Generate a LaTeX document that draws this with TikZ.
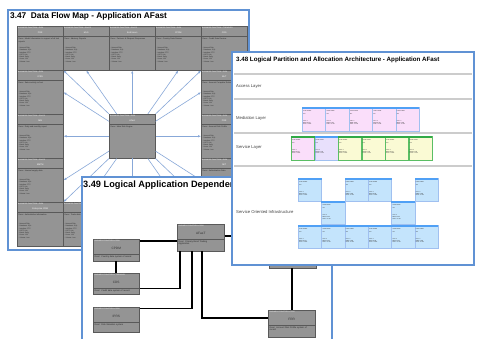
\documentclass[tikz,border=0pt]{standalone}
\usepackage{fontspec}
\setmainfont{Liberation Sans}
\usetikzlibrary{arrows.meta}

\definecolor{pageblue}{RGB}{96,146,212}
\definecolor{flowblue}{RGB}{136,168,216}
\definecolor{boxgray}{RGB}{148,148,148}
\definecolor{medpink}{RGB}{250,222,250}
\definecolor{lavender}{RGB}{232,224,252}
\definecolor{svcyellow}{RGB}{250,250,212}
\definecolor{soiblue}{RGB}{196,228,252}
\definecolor{hdrblue}{RGB}{80,160,245}
\definecolor{hdrgreen}{RGB}{50,170,70}
\definecolor{bordblue}{RGB}{160,192,240}
\definecolor{bordgreen}{RGB}{90,190,100}

\tikzset{
  page/.style={draw=pageblue, line width=1.1pt, fill=white},
  title/.style={anchor=west, inner sep=0pt, font=\bfseries\fontsize{8.3}{10}\selectfont},
  fnbox/.style={draw=black!65, fill=boxgray, anchor=north west, inner sep=0pt,
    line width=0.5pt, minimum width=46pt, minimum height=44pt},
  fnsep/.style={draw=black!65, line width=0.5pt},
  fnhead/.style={anchor=north west, inner sep=0pt, text=white, font=\fontsize{1.8}{2}\selectfont},
  fnname/.style={inner sep=0pt, text=white, font=\fontsize{2.2}{2.5}\selectfont},
  fndesc/.style={anchor=north west, inner sep=0pt, text width=42pt, align=left,
    text=black!85, font=\fontsize{2}{2.4}\selectfont},
  fnlist/.style={anchor=north west, inner sep=0pt, align=left, text=black!85,
    font=\fontsize{1.7}{2.3}\selectfont},
  flow/.style={draw=flowblue, line width=0.6pt, -{Latex[length=3pt,width=2.4pt]}},
  apbox/.style={fnbox, minimum height=22pt},
  apname/.style={inner sep=0pt, text=black!80, font=\fontsize{3.2}{3.5}\selectfont},
  apdesc/.style={anchor=north west, inner sep=0pt, text width=44pt, align=left,
    text=black!85, font=\fontsize{2.2}{2.6}\selectfont},
  dep/.style={draw=black, line width=1.6pt},
  laylabel/.style={anchor=west, inner sep=0pt, text=black!75, font=\fontsize{4.2}{5}\selectfont},
  laysep/.style={draw=black!20, line width=1.2pt},
  lpbox/.style={anchor=north west, inner sep=0pt, minimum width=23.3pt,
    minimum height=24pt, line width=0.4pt},
  lptext/.style={anchor=north west, inner sep=0pt, align=left, text=black!80,
    font=\fontsize{1.4}{1.8}\selectfont},
}

% tiny list printed in every data flow box
\newcommand{\flowitems}{- Network Risk\\- Database: SQL\\- Interface: FTP\\- COTS: No\\- Batch: Daily\\- Users: 120\\- Volume: Low}

% data flow box: [style] name, top left, function, app, desc, list
\newcommand{\fnbox}[7][]{%
  \node[fnbox,#1] (#2) at (#3) {};
  \draw[fnsep] ([yshift=-10pt]#2.north west) -- ([yshift=-10pt]#2.north east);
  \node[fnhead] at ([shift={(1pt,-1.2pt)}]#2.north west) {BUSINESS FUNCTION > #4};
  \node[fnname] at ([yshift=-6.5pt]#2.north) {#5};
  \node[fndesc] at ([shift={(1.5pt,-12pt)}]#2.north west) {Desc: #6};
  \node[fnlist] at ([shift={(1.5pt,-21pt)}]#2.north west) {#7};
}

% dependency box: [style] name, top left, function, app, desc
\newcommand{\apbox}[6][]{%
  \node[apbox,#1] (#2) at (#3) {};
  \draw[fnsep] ([yshift=-15pt]#2.north west) -- ([yshift=-15pt]#2.north east);
  \node[fnhead] at ([shift={(1.5pt,-1.5pt)}]#2.north west) {BUSINESS FUNCTION > #4};
  \node[apname] at ([yshift=-9pt]#2.north) {#5};
  \node[apdesc] at ([shift={(1.5pt,-16.5pt)}]#2.north west) {Desc: #6};
}

% partition box: [style] name, top left, header colour
\newcommand{\lpbox}[4][]{%
  \node[lpbox,#1] (#2) at (#3) {};
  \fill[#4] (#2.north west) rectangle ([yshift=-1.8pt]#2.north east);
  \node[lptext] at ([shift={(1pt,-3pt)}]#2.north west)
    {LPAR NAME\\[1.5pt]AIX\\[5pt]CPU: 2\\MEM: 8 GB\\DISK: 70 GB};
}

\begin{document}
\begin{tikzpicture}[x=1pt,y=-1pt]
\useasboundingbox (0,0) rectangle (477,339);

% 3.47 data flow map
\draw[page] (8,10) rectangle (249,250);
\node[title] (t47) at (10,16) {3.47\ \ Data Flow Map - Application AFast};

\fnbox{t1}{17,26}{RISK}{FRR}{Model information in support of all risk reports}{\flowitems}
\fnbox{t2}{63,26}{SALES}{MLS}{Advisory Reports}{\flowitems}
\fnbox{t3}{109,26}{SALES}{End Users}{Partners \& Request Responses}{\flowitems}
\fnbox{t4}{155,26}{RISK}{CPDM}{Country Data Review}{\flowitems}
\fnbox{t5}{201,26}{TREASURY}{CDS}{Credit Data Review}{\flowitems}
\fnbox{l2}{17,70}{RISK}{IPRS}{Sales activity ref set}{\flowitems}
\fnbox{l3}{17,114}{SALES}{MIS}{Daily and monthly report}{\flowitems}
\fnbox{l4}{17,158}{SALES}{EMTM}{Internal supply data}{\flowitems}
\fnbox{r2}{201,70}{RISK}{MLT}{Account Complete Extract}{\flowitems}
\fnbox{r3}{201,114}{RISK}{FRR}{Account Risk Profile}{\flowitems}
\fnbox{r4}{201,158}{RISK}{MIT}{Authorization Data}{}
\fnbox{b1}{17,202}{RISK}{Enterprise CDM}{Authoritative information}{\flowitems}
\fnbox{b2}{63,202}{RISK SERVICES}{RTS}{Trade data}{\flowitems}
\node[fnbox] (b3) at (109,202) {};
\node[fnbox] (b4) at (155,202) {};
\node[fnbox] (b5) at (201,202) {};
\fnbox{ctr}{109,114}{RISK}{AFast}{Main Risk Engine}{}

\foreach \t in {t1.south east, t2.south, t3.south, t4.south, t5.south west,
    l2.east, l3.east, l4.east, r2.west, r3.west, r4.west,
    b1.north east, b2.north, b3.north, b4.north, b5.north west}
  \draw[flow] (ctr) -- (\t);

% 3.49 logical application dependency
\draw[page] (82,177) rectangle (332,350);
\begin{scope}
\clip (82,177) rectangle (232,200);
\node[title, font=\bfseries\fontsize{9.2}{11}\selectfont] (t49) at (83,185)
  {3.49 Logical Application Dependency};
\end{scope}

\apbox[minimum width=47pt, minimum height=27pt]{afast}{177,224}{RISK}{AFasT}{Primary Bond Trading\\Application}
\apbox{cpdm}{93,239}{RISK}{CPDM}{Country data system of record}
\apbox[minimum height=21pt]{cds}{93,273}{TREASURY}{CDS}{Credit data system of record}
\apbox[minimum height=25pt]{iprs}{93,307}{RISK}{IPRS}{Risk Valuation system}
\apbox[minimum width=47pt, minimum height=27pt]{frr}{268,310}{RISK}{FRR}{Account Risk Profile system of\\record}
\node[apbox, minimum width=47pt, minimum height=28pt] (hid) at (269,240) {};

\coordinate (c1) at ([yshift=-2pt]cpdm.north east);
\coordinate (c2) at ([yshift=6pt]cds.south east);
\coordinate (c3) at ([yshift=-1.5pt]iprs.north east);
\coordinate (c4) at ([yshift=-8pt]frr.north west);
\coordinate (offp) at (250,236);
\draw[dep] (c1) -- (c1 -| afast.west);
\draw[dep] (cpdm) -- (cds);
\draw[dep] (c2) -| ([xshift=3pt]afast.south west);
\draw[dep] (c3) -| ([xshift=15pt]afast.south west);
\draw[dep] ([xshift=25pt]afast.south west) |- (c4);
\draw[dep] (afast.east |- offp) -- (offp);
\draw[dep] (frr.north) -- (frr.north |- hid.south);

% 3.48 logical partition and allocation
\draw[page] (232,52) rectangle (474,265);
\node[title, font=\bfseries\fontsize{6.2}{7.5}\selectfont] (t48) at (236,60)
  {3.48 Logical Partition and Allocation Architecture - Application AFast};
\foreach \y in {74,99,133,166}
  \draw[laysep] (234,\y) -- (472,\y);
\node[laylabel] (acc) at (236,86) {Access Layer};
\node[laylabel] (med) at (236,118) {Mediation Layer};
\node[laylabel] (svc) at (236,147) {Service Layer};
\node[laylabel] (soi) at (236,212) {Service Oriented Infrastructure};

\foreach \i in {0,...,4}
  \lpbox[fill=medpink, draw=bordblue]{m\i}{302+23.4*\i,107}{hdrblue};
\foreach \i/\fc/\hc/\bc in {0/medpink/hdrgreen/bordgreen, 1/lavender/hdrblue/bordblue,
    2/svcyellow/hdrgreen/bordgreen, 3/svcyellow/hdrgreen/bordgreen,
    4/svcyellow/hdrgreen/bordgreen, 5/svcyellow/hdrgreen/bordgreen}
  \lpbox[fill=\fc, draw=\bc]{s\i}{291+23.5*\i,136}{\hc};
\foreach \i/\x/\y in {1/0/0, 2/2/0, 3/3/0, 4/5/0, 5/1/1, 6/4/1,
    7/0/2, 8/1/2, 9/2/2, 10/3/2, 11/4/2, 12/5/2}
  \lpbox[fill=soiblue, draw=bordblue, minimum height=23pt]{o\i}{298+23.33*\x,178+23.5*\y}{hdrblue};
\end{tikzpicture}
\end{document}
